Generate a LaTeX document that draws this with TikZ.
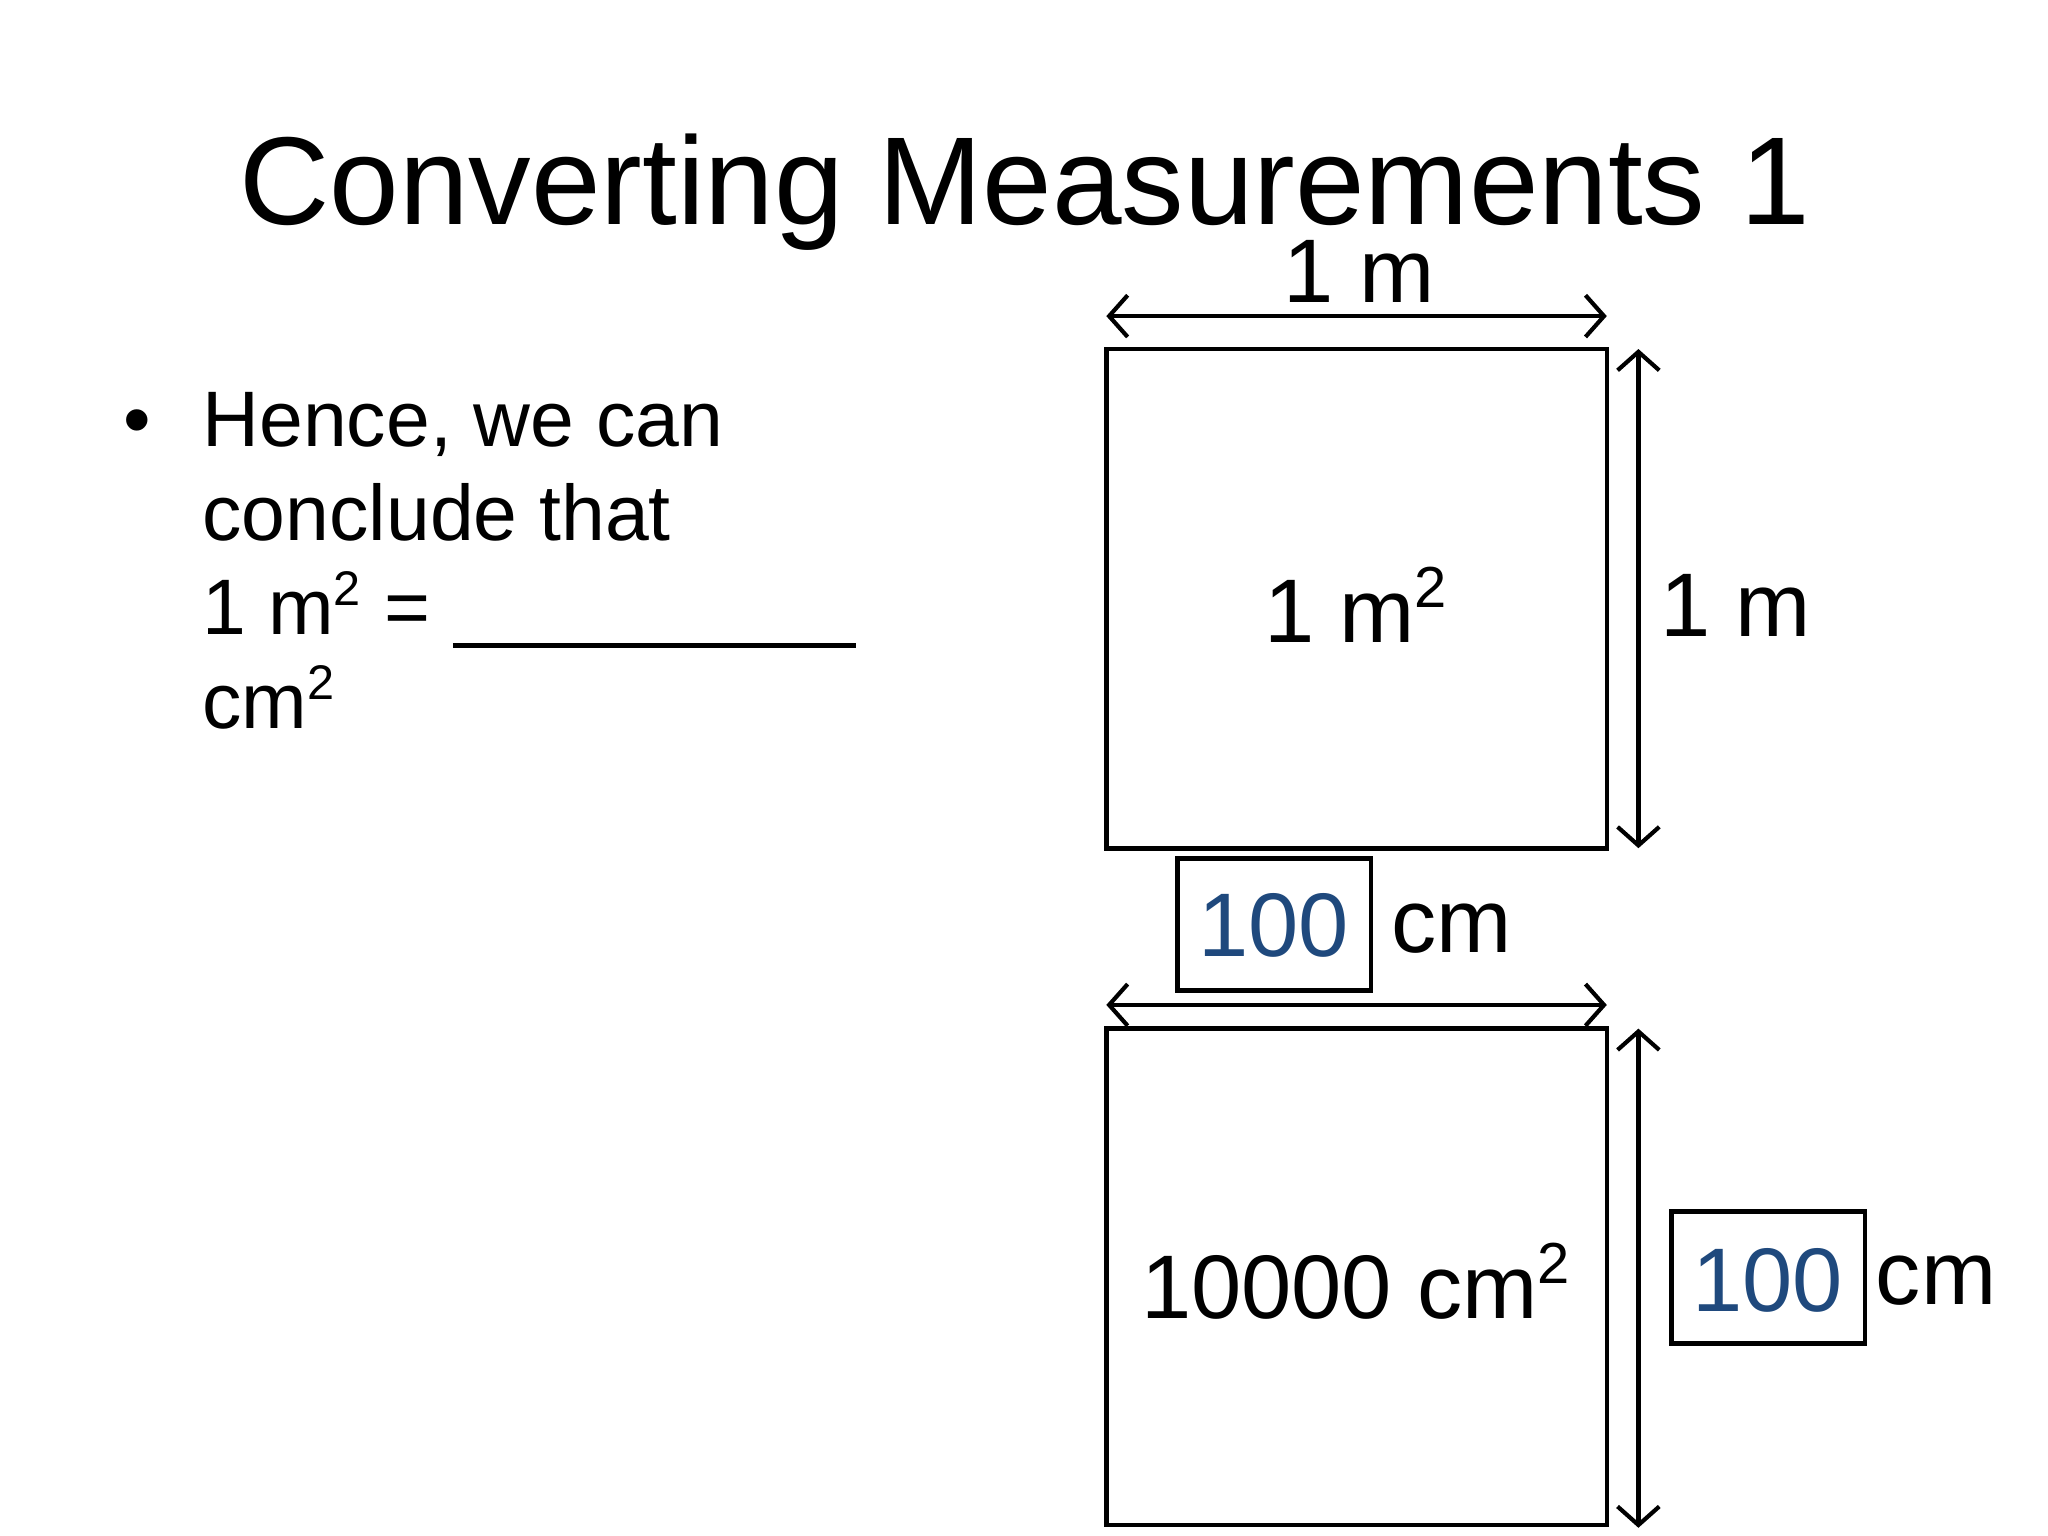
\documentclass[tikz,border=0pt]{standalone}
\usepackage{fontspec}
\setmainfont{Liberation Sans}
\usetikzlibrary{arrows.meta}
\definecolor{blu}{HTML}{1F497D}
\begin{document}
\begin{tikzpicture}[x=0.01cm,y=-0.01cm,
  sq/.style={draw,line width=1pt},
  dim/.style={line width=0.9pt,{Straight Barb[length=4pt,width=9pt]}-{Straight Barb[length=4pt,width=9pt]}},
  lbl/.style={font=\fontsize{19.5}{23}\selectfont,inner sep=0pt}]
\useasboundingbox (0,0) rectangle (1555,1166);
\node[font=\fontsize{27}{32}\selectfont] (title) at (778,146) {Converting Measurements 1};
\node[anchor=north west,align=left,font=\fontsize{17}{20.3}\selectfont,inner sep=0pt] (txt) at (93,288)
 {\makebox[0.6cm][l]{\textbullet}\begin{tabular}[t]{@{}l@{}}Hence, we can\\conclude that\\1 m$^{\mbox{\fontsize{10.5}{11}\selectfont 2}}$ = \rule[-3pt]{3.06cm}{1pt}\\cm$^{\mbox{\fontsize{10.5}{11}\selectfont 2}}$\end{tabular}};
% top square
\draw[sq] (840,265) rectangle (1220,644);
\coordinate (t1) at (840,240); \coordinate (t2) at (1220,240);
\draw[dim] (t1) -- (t2);
\node[lbl] (tl) at (1032,206) {1 m};
\coordinate (r1) at (1244,265); \coordinate (r2) at (1244,644);
\draw[dim] (r1) -- (r2);
\node[lbl] (rl) at (1318,460) {1 m};
\node[lbl] (a1) at (1030,459) {1 m$^{\mbox{\fontsize{12.5}{13}\selectfont 2}}$};
% middle box
\draw[sq] (894,652) rectangle (1041,752);
\node[lbl,text=blu] (h1) at (967,703) {100};
\node[lbl] (c1) at (1102,705) {cm};
\coordinate (m1) at (840,763); \coordinate (m2) at (1220,763);
\draw[dim] (m1) -- (m2);
% bottom square
\draw[sq] (840,781) rectangle (1220,1158);
\coordinate (b1) at (1244,781); \coordinate (b2) at (1244,1160);
\draw[dim] (b1) -- (b2);
\node[lbl] (a2) at (1030,973) {10000 cm$^{\mbox{\fontsize{12.5}{13}\selectfont 2}}$};
\draw[sq] (1269,920) rectangle (1416,1020);
\node[lbl,text=blu] (h2) at (1342,972) {100};
\node[lbl] (c2) at (1470,972) {cm};
\end{tikzpicture}
\end{document}
